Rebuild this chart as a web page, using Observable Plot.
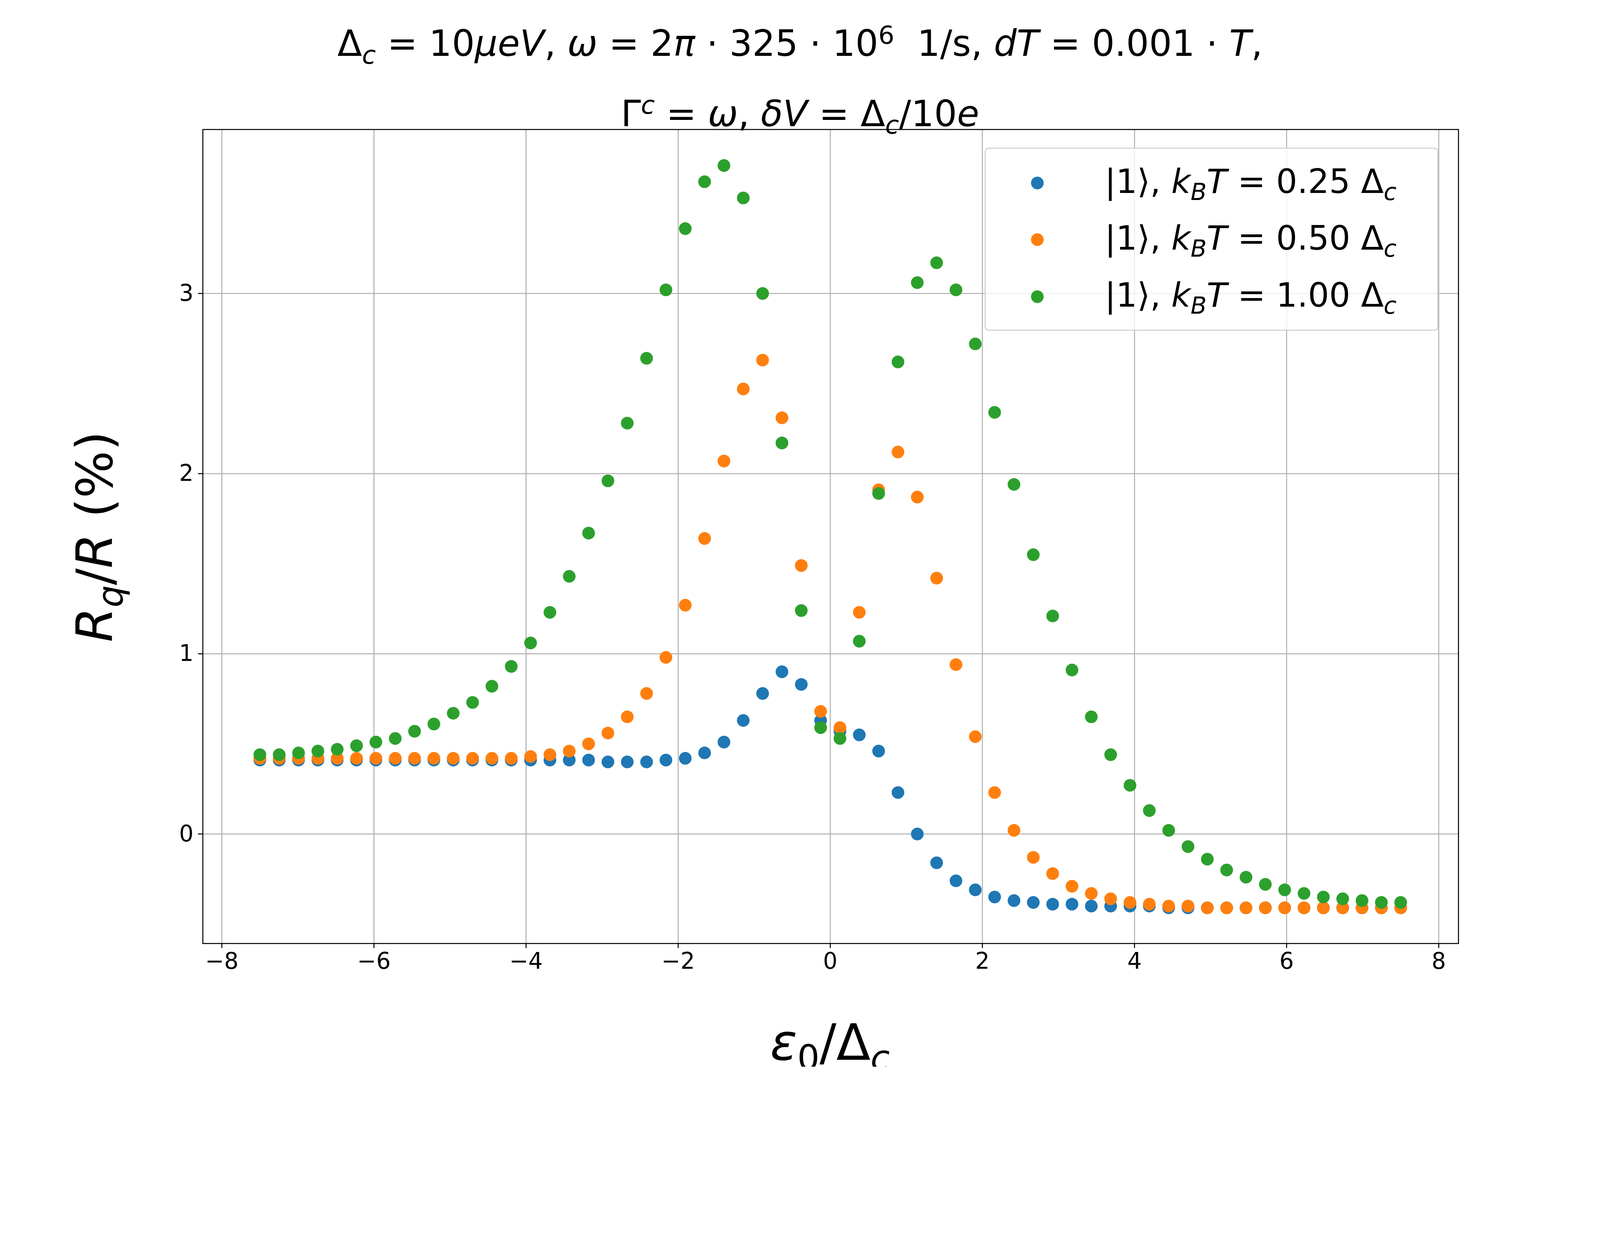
<!DOCTYPE html>
<html><head><meta charset="utf-8">
<script src="https://cdn.jsdelivr.net/npm/d3@7"></script>
<script src="https://cdn.jsdelivr.net/npm/@observablehq/plot@0.6"></script>
<style>
html,body{margin:0;background:#fff;font-family:"DejaVu Sans",sans-serif;overflow:hidden;}
#wrap{position:relative;width:4800px;height:3200px;overflow:hidden;transform-origin:0 0;}
#wrap svg{max-width:none !important;}
.t{position:absolute;white-space:nowrap;color:#000;}
.leg{position:absolute;left:2954px;top:443px;width:1361px;height:549px;border:3px solid #ccc;border-radius:12px;background:rgba(255,255,255,0.8);box-sizing:border-box;}
.li{position:absolute;font-size:100px;}
.dot{position:absolute;left:136px;width:38px;height:38px;border-radius:50%;}
sub,sup{font-size:70%;}
</style></head><body>
<div id="wrap"></div>
<script>
const xs = d3.range(60).map(i => -7.5 + i*15/59);
const blue = [0.41,0.41,0.41,0.41,0.41,0.41,0.41,0.41,0.41,0.41,0.41,0.41,0.41,0.41,0.41,0.41,0.41,0.41,0.40,0.40,0.40,0.41,0.42,0.45,0.51,0.63,0.78,0.90,0.83,0.63,0.57,0.55,0.46,0.23,0.00,-0.16,-0.26,-0.31,-0.35,-0.37,-0.38,-0.39,-0.39,-0.40,-0.40,-0.40,-0.40,-0.41,-0.41,-0.41,-0.41,-0.41,-0.41,-0.41,-0.41,-0.41,-0.41,-0.41,-0.41,-0.41];
const orange = [0.42,0.42,0.42,0.42,0.42,0.42,0.42,0.42,0.42,0.42,0.42,0.42,0.42,0.42,0.43,0.44,0.46,0.50,0.56,0.65,0.78,0.98,1.27,1.64,2.07,2.47,2.63,2.31,1.49,0.68,0.59,1.23,1.91,2.12,1.87,1.42,0.94,0.54,0.23,0.02,-0.13,-0.22,-0.29,-0.33,-0.36,-0.38,-0.39,-0.40,-0.40,-0.41,-0.41,-0.41,-0.41,-0.41,-0.41,-0.41,-0.41,-0.41,-0.41,-0.41];
const green = [0.44,0.44,0.45,0.46,0.47,0.49,0.51,0.53,0.57,0.61,0.67,0.73,0.82,0.93,1.06,1.23,1.43,1.67,1.96,2.28,2.64,3.02,3.36,3.62,3.71,3.53,3.00,2.17,1.24,0.59,0.53,1.07,1.89,2.62,3.06,3.17,3.02,2.72,2.34,1.94,1.55,1.21,0.91,0.65,0.44,0.27,0.13,0.02,-0.07,-0.14,-0.20,-0.24,-0.28,-0.31,-0.33,-0.35,-0.36,-0.37,-0.38,-0.38];
const xTicks = [-8,-6,-4,-2,0,2,4,6,8];
const yTicks = [0,1,2,3];
const series = [["b",blue,"#1f77b4"],["o",orange,"#ff7f0e"],["g",green,"#2ca02c"]];
const data = series.flatMap(([k,v,c]) => v.map((y,i) => ({x:xs[i], y, c})));
const fmt = d => (d < 0 ? "\u2212" : "") + Math.abs(d);

const plot = Plot.plot({
  width:4800, height:3200,
  marginLeft:608, marginRight:425, marginTop:388, marginBottom:370,
  x:{domain:[-8.25,8.26]}, y:{domain:[-0.608,3.91]},
  style:{fontFamily:"DejaVu Sans", fontSize:"66px", color:"#000", maxWidth:"none"},
  marks:[
    Plot.ruleX(xTicks,{stroke:"#b0b0b0",strokeWidth:3}),
    Plot.ruleY(yTicks,{stroke:"#b0b0b0",strokeWidth:3}),
    Plot.dot(data,{x:"x",y:"y",fill:d=>d.c,r:19,stroke:null}),
    Plot.frame({stroke:"#000",strokeWidth:3}),
    Plot.axisX(xTicks,{tickSize:14,tickPadding:14,strokeWidth:3,fontSize:68,label:null,tickFormat:fmt}),
    Plot.axisY(yTicks,{tickSize:14,tickPadding:14,strokeWidth:3,fontSize:68,label:null,tickFormat:fmt})
  ]
});
const wrap = document.getElementById("wrap");
wrap.appendChild(plot);
wrap.insertAdjacentHTML("beforeend", `
<div class="t" style="left:0;width:4800px;text-align:center;top:30px;font-size:108px;line-height:150px;">
Δ<sub><i>c</i></sub> = 10<i>μeV</i>, <i>ω</i> = 2<i>π</i> · 325 · 10<sup>6</sup>&nbsp;&nbsp;1/s, <i>dT</i> = 0.001 · <i>T</i>,<br>
Γ<sup><i>c</i></sup> = <i>ω</i>, <i>δV</i> = Δ<sub><i>c</i></sub>/10<i>e</i></div>
<div class="t" style="left:295px;top:1610px;transform:translate(-50%,-50%) rotate(-90deg);font-size:150px;"><i>R<sub>q</sub></i>/<i>R</i> (%)</div>
<div class="t" style="left:2490px;top:3040px;transform:translateX(-50%);font-size:150px;"><i>ε</i><sub>0</sub>/Δ<sub><i>c</i></sub></div>
<div class="leg">
 <div class="dot" style="top:84px;background:#1f77b4"></div><div class="li" style="left:357px;top:40px">|1⟩, <i>k<sub>B</sub>T</i> = 0.25 Δ<sub><i>c</i></sub></div>
 <div class="dot" style="top:254px;background:#ff7f0e"></div><div class="li" style="left:357px;top:210px">|1⟩, <i>k<sub>B</sub>T</i> = 0.50 Δ<sub><i>c</i></sub></div>
 <div class="dot" style="top:425px;background:#2ca02c"></div><div class="li" style="left:357px;top:381px">|1⟩, <i>k<sub>B</sub>T</i> = 1.00 Δ<sub><i>c</i></sub></div>
</div>`);
function fit(){ const s = Math.min(window.innerWidth/4800, window.innerHeight/3200); wrap.style.transform = `scale(${s})`; }
fit(); window.addEventListener("resize", fit);
</script></body></html>
